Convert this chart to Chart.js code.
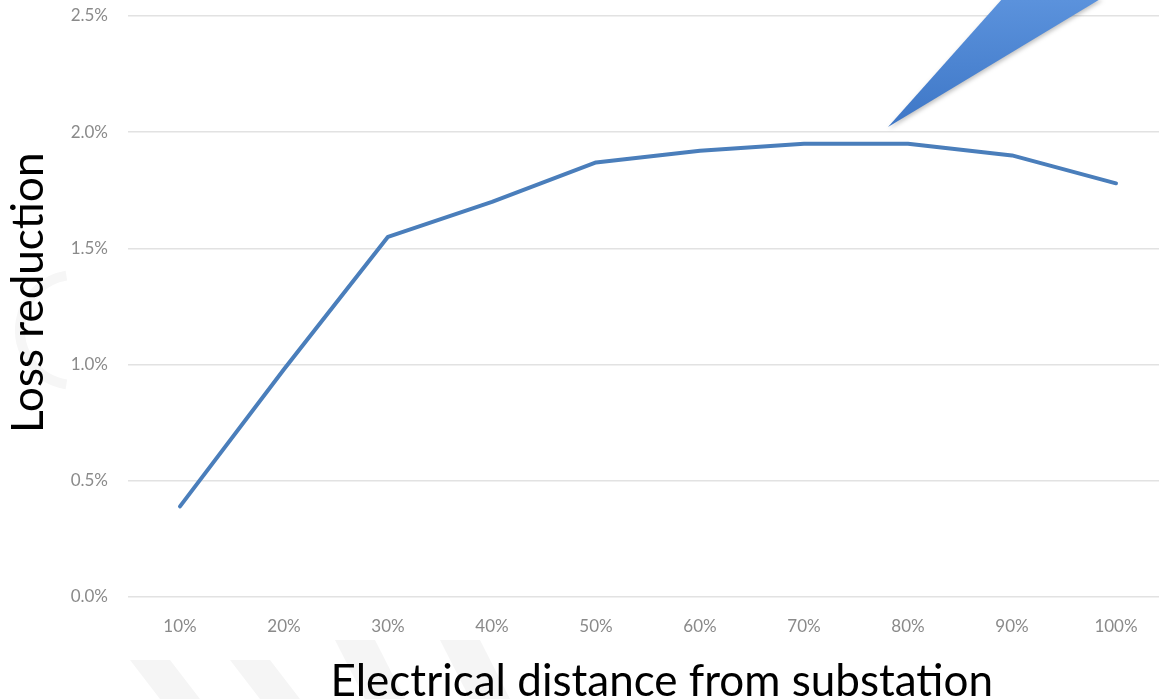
<!DOCTYPE html>
<html>
<head>
<meta charset="utf-8">
<script src="https://cdn.jsdelivr.net/npm/chart.js@4"></script>
<style>
    html, body { margin: 0; padding: 0; background: #fff; overflow: hidden; }
    #wrap { width: 1168px; height: 699px; }
</style>
</head>
<body>
<div id="wrap"><canvas id="lossChart"></canvas></div>
<script>
// Chart data
const distances = ['10%', '20%', '30%', '40%', '50%', '60%', '70%', '80%', '90%', '100%'];
const lossReduction = [0.39, 0.98, 1.55, 1.70, 1.87, 1.92, 1.95, 1.95, 1.90, 1.78];
const yTicks = [0, 0.5, 1.0, 1.5, 2.0, 2.5];

// faint background watermark + the blue callout pointer
const decorations = {
    id: 'decorations',
    beforeDraw(chart) {
        const c = chart.ctx;
        c.save();
        c.fillStyle = '#f5f5f5';
        [[130, 660], [230, 660], [335, 640], [440, 640]].forEach(([x, y]) => {
            c.beginPath();
            c.moveTo(x, y);
            c.lineTo(x + 40, y);
            c.lineTo(x + 70, 699);
            c.lineTo(x + 30, 699);
            c.closePath();
            c.fill();
        });
        c.beginPath();
        c.arc(75, 330, 55, Math.PI * 0.55, Math.PI * 1.45);
        c.lineWidth = 10;
        c.strokeStyle = '#f6f6f6';
        c.stroke();
        c.restore();
    },
    afterDraw(chart) {
        const c = chart.ctx;
        c.save();
        c.shadowColor = 'rgba(0,0,0,0.25)';
        c.shadowBlur = 4;
        c.shadowOffsetX = 1;
        c.shadowOffsetY = 2;
        const g = c.createLinearGradient(0, 0, 0, 130);
        g.addColorStop(0, '#5b92dc');
        g.addColorStop(1, '#3d76c6');
        c.fillStyle = g;
        c.beginPath();
        c.moveTo(888, 127);
        c.lineTo(1003, -2);
        c.lineTo(1102, -2);
        c.closePath();
        c.fill();
        c.restore();
    }
};

const ctx = document.getElementById('lossChart').getContext('2d');
const lossChart = new Chart(ctx, {
    type: 'line',
    data: {
        labels: distances,
        datasets: [{
            label: 'Loss reduction',
            data: lossReduction,
            borderColor: '#4a7ebb',
            borderWidth: 4,
            borderCapStyle: 'round',
            borderJoinStyle: 'round',
            pointRadius: 0,
            tension: 0
        }]
    },
    options: {
        responsive: true,
        maintainAspectRatio: false,
        animation: false,
        layout: { padding: { top: 16, right: 0, left: 0, bottom: 0 } },
        plugins: {
            legend: { display: false },
            tooltip: { enabled: false }
        },
        scales: {
            x: {
                offset: true,
                grid: { display: false, drawTicks: false },
                border: { display: false },
                ticks: {
                    color: '#8a8a8a',
                    font: { family: 'Lato', size: 17 },
                    padding: 19,
                    maxRotation: 0
                },
                title: {
                    display: true,
                    text: '\u2002\u2009Electrical distance from substation',
                    color: '#000',
                    font: { family: 'Lato', size: 44 },
                    padding: { top: 0, bottom: -9 }
                },
                afterFit(scale) {
                    scale.height = 102;
                    scale.paddingLeft = 0;
                    scale.paddingRight = 0;
                }
            },
            y: {
                min: 0,
                max: 2.5,
                afterBuildTicks(scale) { scale.ticks = yTicks.map(v => ({ value: v })); },
                grid: { color: '#e2e2e2', lineWidth: 1.5, drawTicks: false },
                border: { display: false },
                ticks: {
                    color: '#8a8a8a',
                    font: { family: 'Lato', size: 17 },
                    padding: 20,
                    callback: v => v.toFixed(1) + '%'
                },
                title: {
                    display: true,
                    text: '\u2002\u2009Loss reduction',
                    color: '#000',
                    font: { family: 'Lato', size: 44 },
                    padding: { top: 2, bottom: 0 }
                },
                afterFit(scale) {
                    scale.width = 128;
                    scale.paddingTop = 0;
                    scale.paddingBottom = 0;
                }
            }
        }
    },
    plugins: [decorations]
});
</script>
</body>
</html>
